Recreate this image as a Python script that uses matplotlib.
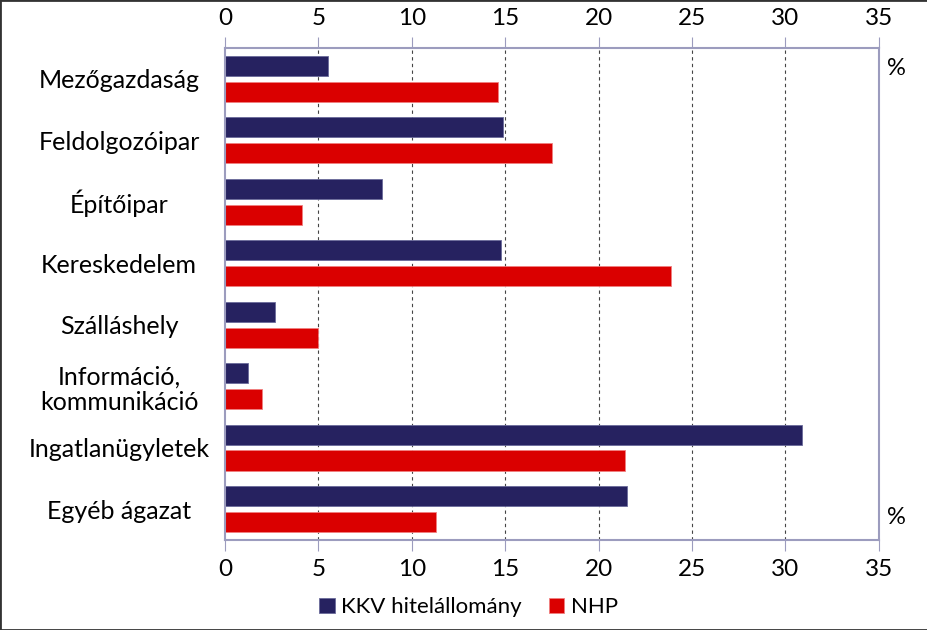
import numpy as np
import matplotlib.pyplot as plt
from matplotlib.patches import Rectangle

plt.rcParams['font.family'] = ['Lato', 'DejaVu Sans']

# adatok
categories = ['Mezőgazdaság', 'Feldolgozóipar', 'Építőipar', 'Kereskedelem',
              'Szálláshely', 'Információ,\nkommunikáció', 'Ingatlanügyletek', 'Egyéb ágazat']
kkv = [5.5, 14.9, 8.4, 14.8, 2.7, 1.25, 30.9, 21.5]
nhp = [14.6, 17.5, 4.1, 23.9, 5.0, 2.0, 21.4, 11.3]
xticks = [0, 5, 10, 15, 20, 25, 30, 35]

navy = '#262260'
red = '#DA0000'
axcol = '#9C9CBE'

fig = plt.figure(figsize=(9.28, 6.3), dpi=100)
ax = fig.add_axes([0.2425, 0.1429, 0.7045, 0.7809])

y = np.arange(len(categories))
h = 0.33
ax.barh(y - 0.21, kkv, height=h, color=navy, edgecolor='#6A6A9A', linewidth=0.6, label='KKV hitelállomány')
ax.barh(y + 0.21, nhp, height=h, color=red, edgecolor='#F08080', linewidth=0.6, label='NHP')

ax.set_xlim(0, 35)
ax.set_ylim(7.5, -0.5)
ax.set_xticks(xticks)
ax.set_yticks(y)
ax.set_yticklabels(categories, fontsize=18, linespacing=1.15)
ax.tick_params(axis='y', length=0, pad=15)
ax.tick_params(axis='x', top=True, labeltop=True, bottom=True, labelbottom=True,
               direction='out', length=8, color=axcol, labelsize=17.5, pad=6)
for lbl in ax.get_yticklabels():
    lbl.set_horizontalalignment('center')
    lbl.set_x(-0.13)

for x in xticks[1:-1]:
    ax.axvline(x, color='#444444', linestyle=(0, (3, 3)), linewidth=0.8, zorder=0)

for s in ax.spines.values():
    s.set_color(axcol)
    s.set_linewidth(1.5)

fig.text(0.9665, 0.892, '%', fontsize=17, ha='center', va='center')
fig.text(0.9665, 0.178, '%', fontsize=17, ha='center', va='center')

fig.legend(loc='center', bbox_to_anchor=(0.505, 0.036), ncol=2, frameon=False,
           fontsize=16, handlelength=0.7, handleheight=0.7, handletextpad=0.3,
           columnspacing=1.2)

fig.add_artist(Rectangle((0, 0), 1, 1, transform=fig.transFigure, fill=False,
                         edgecolor='#333333', linewidth=2))

fig.savefig('out.png', dpi=100)
